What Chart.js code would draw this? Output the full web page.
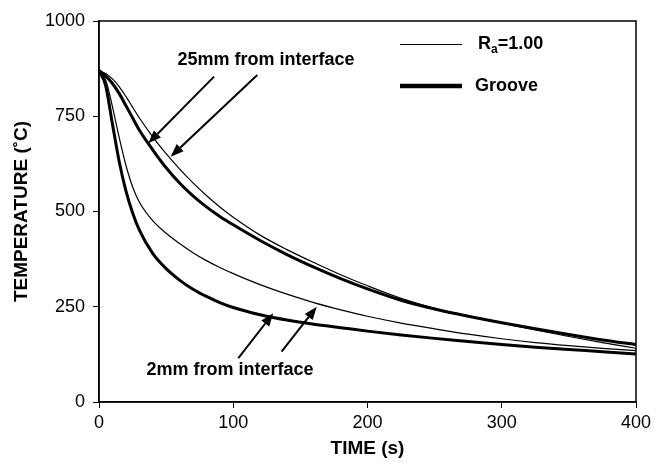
<!DOCTYPE html>
<html>
<head>
<meta charset="utf-8">
<script src="https://cdn.jsdelivr.net/npm/chart.js@4.4.0/dist/chart.umd.min.js"></script>
<style>
  html, body { margin: 0; padding: 0; background: #fff; }
  #wrap { width: 665px; height: 465px; }
</style>
</head>
<body>
<div id="wrap"><canvas id="myChart" width="665" height="465"></canvas></div>
<script>
// time (s) and temperatures (°C)
const times   = [0, 5, 10, 15, 20, 25, 30, 40, 50, 60, 70, 80, 90, 100, 120, 140, 160, 180, 200, 225, 250, 275, 300, 325, 350, 375, 400];
const ra25mm  = [870, 862, 848, 828, 802, 774, 746, 696, 652, 612, 575, 542, 512, 485, 438, 400, 366, 334, 305, 272, 246, 226, 207, 189, 172, 156, 141];
const grv25mm = [870, 856, 836, 810, 778, 746, 714, 662, 615, 575, 541, 512, 487, 465, 424, 387, 354, 324, 297, 267, 244, 225, 208, 192, 177, 163, 151];
const ra2mm   = [870, 845, 775, 695, 622, 565, 525, 476, 443, 416, 392, 371, 353, 337, 308, 283, 261, 242, 225, 207, 192, 178, 166, 156, 148, 141, 135];
const grv2mm  = [870, 830, 730, 632, 555, 497, 452, 390, 350, 320, 296, 277, 261, 248, 229, 215, 204, 195, 186, 176, 167, 159, 151, 144, 138, 132, 126];

const xTicks = [0, 100, 200, 300, 400];
const yTicks = [0, 250, 500, 750, 1000];

// annotation arrows in data units: [tailX, tailY, tipX, tipY]
const arrows = [
    [85.7, 854, 36.7, 679],
    [117.9, 858, 53.4, 644],
    [103.8, 115, 129.8, 233],
    [136, 132, 162.2, 250]
];
const notes = [
    { text: '25mm from interface', x: 124.4, y: 898 },
    { text: '2mm from interface', x: 97.6, y: 84 }
];

const pts = (ys) => times.map((t, i) => ({ x: t, y: ys[i] }));
const FONT = "'Liberation Sans', Arial, sans-serif";

function lineSet(label, ys, w) {
    return {
        label: label,
        data: pts(ys),
        borderColor: '#000',
        borderWidth: w,
        pointRadius: 0,
        fill: false,
        cubicInterpolationMode: 'monotone'
    };
}

const extras = {
    id: 'extras',
    afterDraw(chart) {
        const c = chart.ctx;
        const a = chart.chartArea;
        const xs = chart.scales.x, ys = chart.scales.y;
        c.save();
        // frame
        c.strokeStyle = '#000';
        c.lineWidth = 1.5;
        c.strokeRect(a.left, a.top, a.right - a.left, a.bottom - a.top);

        // arrows
        c.fillStyle = '#000';
        c.lineWidth = 2;
        arrows.forEach(([x1, y1, x2, y2]) => {
            const px1 = xs.getPixelForValue(x1), py1 = ys.getPixelForValue(y1);
            const px2 = xs.getPixelForValue(x2), py2 = ys.getPixelForValue(y2);
            const ang = Math.atan2(py2 - py1, px2 - px1);
            const hl = 13, hw = 5;
            const bx = px2 - hl * Math.cos(ang), by = py2 - hl * Math.sin(ang);
            c.beginPath();
            c.moveTo(px1, py1);
            c.lineTo(bx, by);
            c.stroke();
            c.beginPath();
            c.moveTo(px2, py2);
            c.lineTo(bx + hw * Math.sin(ang), by - hw * Math.cos(ang));
            c.lineTo(bx - hw * Math.sin(ang), by + hw * Math.cos(ang));
            c.closePath();
            c.fill();
        });

        // notes
        c.font = 'bold 18px ' + FONT;
        c.textAlign = 'center';
        c.textBaseline = 'middle';
        notes.forEach(n => c.fillText(n.text, xs.getPixelForValue(n.x), ys.getPixelForValue(n.y)));

        // legend
        c.lineWidth = 1;
        c.beginPath(); c.moveTo(400, 44.5); c.lineTo(462, 44.5); c.stroke();
        c.lineWidth = 4.5;
        c.beginPath(); c.moveTo(400, 86); c.lineTo(462, 86); c.stroke();
        c.textAlign = 'left';
        c.font = 'bold 18px ' + FONT;
        c.fillText('R', 478, 44);
        let w = c.measureText('R').width;
        c.font = 'bold 12px ' + FONT;
        c.fillText('a', 478 + w, 50);
        w += c.measureText('a').width;
        c.font = 'bold 18px ' + FONT;
        c.fillText('=1.00', 478 + w, 44);
        c.fillText('Groove', 475, 86);
        c.restore();
    }
};

const ctx = document.getElementById('myChart').getContext('2d');
new Chart(ctx, {
    type: 'line',
    data: {
        datasets: [
            lineSet('Ra=1.00 25mm', ra25mm, 1.2),
            lineSet('Groove 25mm', grv25mm, 3),
            lineSet('Ra=1.00 2mm', ra2mm, 1.2),
            lineSet('Groove 2mm', grv2mm, 3)
        ]
    },
    options: {
        responsive: false,
        animation: false,
        layout: { padding: { left: 0, top: 21, right: 29, bottom: 0 } },
        plugins: { legend: { display: false }, tooltip: { enabled: false } },
        scales: {
            x: {
                type: 'linear',
                min: 0, max: 400,
                afterBuildTicks: (s) => { s.ticks = xTicks.map(v => ({ value: v })); },
                afterFit: (s) => { s.height = 63; },
                ticks: { color: '#000', padding: 4, font: { family: FONT, size: 18 }, callback: (v) => String(v) },
                grid: { drawOnChartArea: false, drawTicks: true, tickLength: 6, color: '#000', lineWidth: 1 },
                border: { color: '#000', width: 1.5 },
                title: { display: true, text: 'TIME (s)', color: '#000', padding: { top: 0, bottom: 5 }, font: { family: FONT, size: 19, weight: 'bold' } }
            },
            y: {
                min: 0, max: 1000,
                afterBuildTicks: (s) => { s.ticks = yTicks.map(v => ({ value: v })); },
                afterFit: (s) => { s.width = 99; },
                ticks: { color: '#000', padding: 8, font: { family: FONT, size: 18 }, callback: (v) => String(v) },
                grid: { drawOnChartArea: false, drawTicks: true, tickLength: 6, color: '#000', lineWidth: 1 },
                border: { color: '#000', width: 1.5 },
                title: { display: true, text: 'TEMPERATURE (˚C)', color: '#000', padding: { top: 10, bottom: 0 }, font: { family: FONT, size: 19, weight: 'bold' } }
            }
        }
    },
    plugins: [extras]
});
</script>
</body>
</html>
